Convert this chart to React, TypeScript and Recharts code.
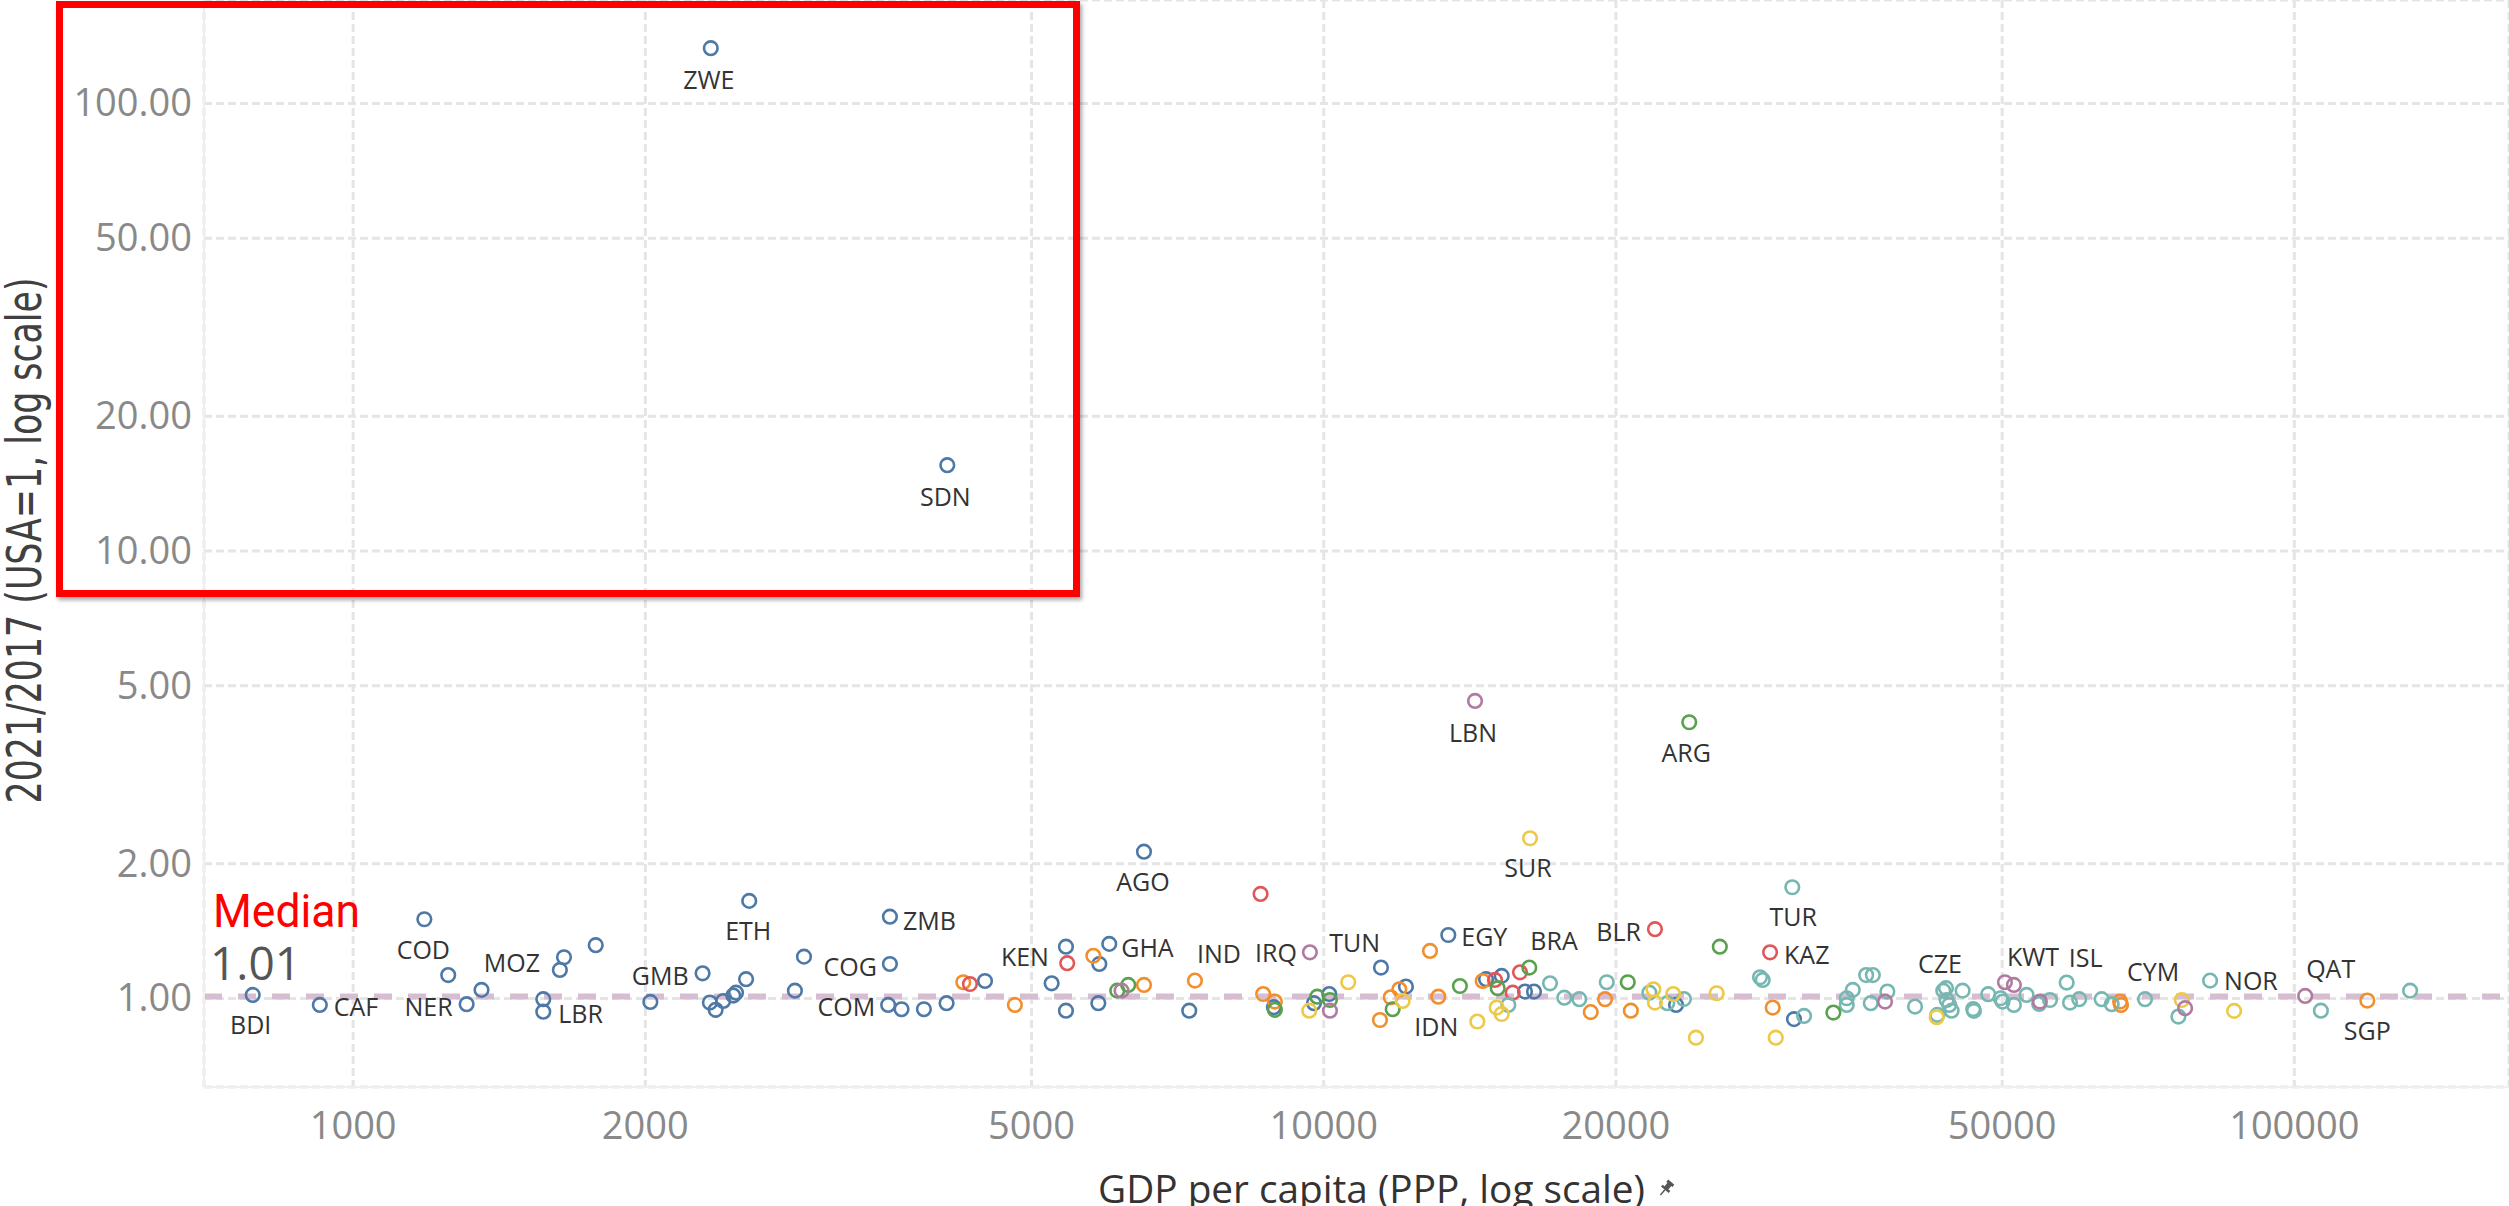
import { CartesianGrid, ReferenceLine, Scatter, ScatterChart, XAxis, YAxis } from "recharts";

type Pt = { gdp: number; ratio: number; code?: string };

// GDP per capita (PPP) vs 2021/2017 price-level ratio, grouped by region colour
const africa: Pt[] = [
  { gdp: 788, ratio: 1.018, code: "BDI" },
  { gdp: 924, ratio: 0.967, code: "CAF" },
  { gdp: 1184, ratio: 1.503, code: "COD" },
  { gdp: 1253, ratio: 1.128 },
  { gdp: 1309, ratio: 0.971, code: "NER" },
  { gdp: 1356, ratio: 1.045 },
  { gdp: 1570, ratio: 0.996 },
  { gdp: 1570, ratio: 0.934, code: "LBR" },
  { gdp: 1649, ratio: 1.236, code: "MOZ" },
  { gdp: 1633, ratio: 1.158 },
  { gdp: 1778, ratio: 1.315 },
  { gdp: 2024, ratio: 0.982 },
  { gdp: 2291, ratio: 1.138, code: "GMB" },
  { gdp: 2331, ratio: 0.979 },
  { gdp: 2363, ratio: 0.943 },
  { gdp: 2406, ratio: 0.987 },
  { gdp: 2464, ratio: 1.015 },
  { gdp: 2480, ratio: 1.03 },
  { gdp: 2540, ratio: 1.104 },
  { gdp: 2559, ratio: 1.652, code: "ETH" },
  { gdp: 2852, ratio: 1.041 },
  { gdp: 2914, ratio: 1.24 },
  { gdp: 3573, ratio: 1.523, code: "ZMB" },
  { gdp: 3573, ratio: 1.194, code: "COG" },
  { gdp: 3558, ratio: 0.967, code: "COM" },
  { gdp: 3673, ratio: 0.946 },
  { gdp: 3873, ratio: 0.946 },
  { gdp: 4087, ratio: 0.976 },
  { gdp: 4094, ratio: 15.55, code: "SDN" },
  { gdp: 2336, ratio: 132.9, code: "ZWE" },
  { gdp: 4477, ratio: 1.094 },
  { gdp: 5244, ratio: 1.081 },
  { gdp: 5425, ratio: 1.305, code: "KEN" },
  { gdp: 5425, ratio: 0.939 },
  { gdp: 5872, ratio: 1.194 },
  { gdp: 6012, ratio: 1.324, code: "GHA" },
  { gdp: 5858, ratio: 0.976 },
  { gdp: 6528, ratio: 2.128, code: "AGO" },
  { gdp: 7268, ratio: 0.939 },
  { gdp: 8884, ratio: 0.956 },
  { gdp: 9771, ratio: 0.976 },
  { gdp: 10131, ratio: 1.023 },
  { gdp: 11454, ratio: 1.172, code: "TUN" },
  { gdp: 12153, ratio: 1.063 },
  { gdp: 13438, ratio: 1.386, code: "EGY" },
  { gdp: 14696, ratio: 1.104 },
  { gdp: 15253, ratio: 1.123 },
  { gdp: 16119, ratio: 1.036 },
  { gdp: 16467, ratio: 1.036 },
  { gdp: 23066, ratio: 0.967 },
  { gdp: 30514, ratio: 0.899 },
];

const asia: Pt[] = [
  { gdp: 4252, ratio: 1.087 },
  { gdp: 4806, ratio: 0.967 },
  { gdp: 5789, ratio: 1.245 },
  { gdp: 6528, ratio: 1.072 },
  { gdp: 7367, ratio: 1.096, code: "IND" },
  { gdp: 8661, ratio: 1.023 },
  { gdp: 8905, ratio: 0.984 },
  { gdp: 11427, ratio: 0.895 },
  { gdp: 11721, ratio: 1.006 },
  { gdp: 11963, ratio: 1.048 },
  { gdp: 12867, ratio: 1.277 },
  { gdp: 13123, ratio: 1.009 },
  { gdp: 14581, ratio: 1.094 },
  { gdp: 18840, ratio: 0.932 },
  { gdp: 19490, ratio: 0.996 },
  { gdp: 20720, ratio: 0.939 },
  { gdp: 29010, ratio: 0.954 },
  { gdp: 66140, ratio: 0.984 },
  { gdp: 66280, ratio: 0.967 },
  { gdp: 118900, ratio: 0.989, code: "SGP" },
];

const cis: Pt[] = [
  { gdp: 4320, ratio: 1.077 },
  { gdp: 5441, ratio: 1.199 },
  { gdp: 8608, ratio: 1.712 },
  { gdp: 15012, ratio: 1.1 },
  { gdp: 15656, ratio: 1.03 },
  { gdp: 15929, ratio: 1.144 },
  { gdp: 21940, ratio: 1.428, code: "BLR" },
  { gdp: 28830, ratio: 1.268, code: "KAZ" },
];

const europe: Pt[] = [
  { gdp: 15494, ratio: 0.967 },
  { gdp: 17105, ratio: 1.081 },
  { gdp: 17696, ratio: 1.004 },
  { gdp: 18336, ratio: 0.996 },
  { gdp: 19570, ratio: 1.087 },
  { gdp: 21650, ratio: 1.03 },
  { gdp: 22590, ratio: 0.976 },
  { gdp: 23500, ratio: 0.997 },
  { gdp: 28150, ratio: 1.115 },
  { gdp: 28330, ratio: 1.1 },
  { gdp: 30390, ratio: 1.772, code: "TUR" },
  { gdp: 31250, ratio: 0.914 },
  { gdp: 34580, ratio: 0.967 },
  { gdp: 34580, ratio: 1.001 },
  { gdp: 35080, ratio: 1.045 },
  { gdp: 36210, ratio: 1.128 },
  { gdp: 36790, ratio: 1.128 },
  { gdp: 36610, ratio: 0.976 },
  { gdp: 38080, ratio: 1.036 },
  { gdp: 40660, ratio: 0.959 },
  { gdp: 42870, ratio: 0.919 },
  { gdp: 43480, ratio: 1.041 },
  { gdp: 43760, ratio: 1.054, code: "CZE" },
  { gdp: 43830, ratio: 0.992 },
  { gdp: 44100, ratio: 0.967 },
  { gdp: 44350, ratio: 0.939 },
  { gdp: 45520, ratio: 1.041 },
  { gdp: 46680, ratio: 0.947 },
  { gdp: 46760, ratio: 0.938 },
  { gdp: 48370, ratio: 1.022 },
  { gdp: 49810, ratio: 1.001 },
  { gdp: 50050, ratio: 0.984 },
  { gdp: 51410, ratio: 0.967 },
  { gdp: 52980, ratio: 1.018 },
  { gdp: 54590, ratio: 0.972 },
  { gdp: 56000, ratio: 0.992 },
  { gdp: 58270, ratio: 1.085, code: "ISL" },
  { gdp: 58730, ratio: 0.979 },
  { gdp: 60030, ratio: 0.996 },
  { gdp: 63310, ratio: 0.996 },
  { gdp: 64840, ratio: 0.971 },
  { gdp: 70170, ratio: 0.996, code: "CYM" },
  { gdp: 75950, ratio: 0.911 },
  { gdp: 81880, ratio: 1.096, code: "NOR" },
  { gdp: 106500, ratio: 0.939 },
  { gdp: 131600, ratio: 1.041 },
];

const southAmerica: Pt[] = [
  { gdp: 6127, ratio: 1.041 },
  { gdp: 6289, ratio: 1.072 },
  { gdp: 8905, ratio: 0.943 },
  { gdp: 9847, ratio: 1.009 },
  { gdp: 10148, ratio: 0.992 },
  { gdp: 11777, ratio: 0.946 },
  { gdp: 13813, ratio: 1.066 },
  { gdp: 15108, ratio: 1.054 },
  { gdp: 16285, ratio: 1.172, code: "BRA" },
  { gdp: 20570, ratio: 1.087 },
  { gdp: 23800, ratio: 4.142, code: "ARG" },
  { gdp: 25590, ratio: 1.305 },
  { gdp: 33500, ratio: 0.93 },
];

const caribbean: Pt[] = [
  { gdp: 9662, ratio: 0.939 },
  { gdp: 10598, ratio: 1.087 },
  { gdp: 12059, ratio: 0.987 },
  { gdp: 14395, ratio: 0.888, code: "IDN" },
  { gdp: 15072, ratio: 0.954 },
  { gdp: 15253, ratio: 0.923 },
  { gdp: 16312, ratio: 2.28, code: "SUR" },
  { gdp: 21860, ratio: 1.048 },
  { gdp: 21940, ratio: 0.979 },
  { gdp: 22910, ratio: 1.023 },
  { gdp: 24180, ratio: 0.817 },
  { gdp: 25400, ratio: 1.027 },
  { gdp: 29220, ratio: 0.817 },
  { gdp: 42810, ratio: 0.908 },
  { gdp: 76570, ratio: 0.992 },
  { gdp: 86680, ratio: 0.938 },
];

const middleEast: Pt[] = [
  { gdp: 6190, ratio: 1.041 },
  { gdp: 9677, ratio: 1.268, code: "IRQ" },
  { gdp: 10148, ratio: 0.939 },
  { gdp: 14317, ratio: 4.622, code: "LBN" },
  { gdp: 37870, ratio: 0.984 },
  { gdp: 50330, ratio: 1.087, code: "KWT" },
  { gdp: 51410, ratio: 1.072 },
  { gdp: 54680, ratio: 0.984 },
  { gdp: 77170, ratio: 0.951 },
  { gdp: 102600, ratio: 1.013, code: "QAT" },
];

const xTicks = [1000, 2000, 5000, 10000, 20000, 50000, 100000];
const yTicks = [1, 2, 5, 10, 20, 50, 100];
const median = 1.01;

const regions = [
  { name: "Africa", color: "#4e79a7", data: africa },
  { name: "Asia", color: "#f28e2b", data: asia },
  { name: "CIS", color: "#e15759", data: cis },
  { name: "Europe", color: "#76b7b2", data: europe },
  { name: "South America", color: "#59a14f", data: southAmerica },
  { name: "Caribbean", color: "#edc948", data: caribbean },
  { name: "Middle East", color: "#b07aa1", data: middleEast },
];

// label placement relative to its point: dx, dy (baseline), anchor
const labelPos: Record<string, [number, number, "start" | "middle" | "end"]> = {
  ZWE: [-2, 41, "middle"],
  SDN: [-2, 41, "middle"],
  BDI: [-2, 39, "middle"],
  CAF: [14, 11, "start"],
  COD: [-1, 40, "middle"],
  NER: [-14, 12, "end"],
  MOZ: [-24, 15, "end"],
  LBR: [15, 11, "start"],
  GMB: [-14, 12, "end"],
  ETH: [-1, 39, "middle"],
  ZMB: [13, 13, "start"],
  COG: [-13, 12, "end"],
  COM: [-13, 11, "end"],
  KEN: [-17, 19, "end"],
  GHA: [12, 13, "start"],
  AGO: [-1, 39, "middle"],
  IND: [2, -18, "start"],
  IRQ: [-13, 10, "end"],
  TUN: [-1, -16, "end"],
  EGY: [13, 11, "start"],
  IDN: [-19, 14, "end"],
  BRA: [1, -18, "start"],
  SUR: [-2, 39, "middle"],
  LBN: [-2, 41, "middle"],
  ARG: [-3, 40, "middle"],
  BLR: [-14, 12, "end"],
  TUR: [1, 39, "middle"],
  KAZ: [14, 12, "start"],
  CZE: [-6, -15, "middle"],
  KWT: [2, -16, "start"],
  ISL: [2, -16, "start"],
  CYM: [8, -18, "middle"],
  NOR: [14, 9, "start"],
  QAT: [1, -18, "start"],
  SGP: [0, 39, "middle"],
};

const labeled = regions.flatMap((r) => r.data.filter((p) => p.code));

const SANS = "'Open Sans', 'Noto Sans', sans-serif";

const ring = (color: string) => (props: any) => (
  <circle cx={props.cx} cy={props.cy} r={6.8} fill="none" stroke={color} strokeWidth={2.6} />
);

const codeLabel = (props: any) => {
  const p = props.payload as Pt;
  const [dx, dy, anchor] = labelPos[p.code as string] ?? [0, 40, "middle"];
  return (
    <text x={props.cx + dx} y={props.cy + dy} textAnchor={anchor} fontFamily={SANS} fontSize={25} fill="#333">
      {p.code}
    </text>
  );
};

const xTick = (props: any) => (
  <text x={props.x} y={props.y + 52} textAnchor="middle" fontFamily={SANS} fontSize={38} fill="#898989">
    {props.payload.value}
  </text>
);

const yTick = (props: any) => (
  <text x={props.x - 12} y={props.y + 13} textAnchor="end" fontFamily={SANS} fontSize={38} fill="#898989">
    {Number(props.payload.value).toFixed(2)}
  </text>
);

const yTitle = (props: any) => {
  const vb = props.viewBox;
  const cx = 41;
  const cy = vb.y + vb.height / 2 - 3;
  return (
    <text
      x={cx}
      y={cy}
      transform={`rotate(-90 ${cx} ${cy})`}
      textAnchor="middle"
      fontFamily="'DejaVu Sans', Verdana, sans-serif"
      fontSize={48}
      fill="#404040"
      textLength={526}
      lengthAdjust="spacingAndGlyphs"
    >
      2021/2017 (USA=1, log scale)
    </text>
  );
};

const xTitle = (props: any) => {
  const vb = props.viewBox;
  const cx = vb.x + vb.width / 2 + 15;
  const base = vb.y + 116;
  return (
    <g>
      <text
        x={cx}
        y={base}
        textAnchor="middle"
        fontFamily={SANS}
        fontSize={38}
        fill="#333"
        textLength={547}
        lengthAdjust="spacingAndGlyphs"
      >
        GDP per capita (PPP, log scale)
      </text>
      <g transform={`translate(${cx + 294} ${base - 14}) rotate(40)`} fill="#555">
        <rect x={-4} y={-9} width={8} height={3} />
        <rect x={-2.5} y={-7} width={5} height={6} />
        <rect x={-5} y={-1.5} width={10} height={2.5} />
        <rect x={-0.75} y={1} width={1.5} height={7} />
      </g>
    </g>
  );
};

const medianLabel = (props: any) => {
  const vb = props.viewBox;
  return (
    <g>
      <text
        x={vb.x + 9}
        y={vb.y - 70}
        fontFamily="Roboto, 'Open Sans', sans-serif"
        fontSize={46}
        fill="#ff0000"
        textLength={147}
        lengthAdjust="spacingAndGlyphs"
      >
        Median
      </text>
      <text x={vb.x + 6} y={vb.y - 17} fontFamily={SANS} fontSize={46} fill="#555">
        {median.toFixed(2)}
      </text>
    </g>
  );
};

export default function App() {
  return (
    <div style={{ position: "absolute", left: 0, top: 0, width: 2509, height: 1206, background: "#fff" }}>
      <ScatterChart width={2509} height={1206} margin={{ top: 0, right: 0, bottom: 0, left: 0 }}>
        <CartesianGrid stroke="#e5e5e5" strokeWidth={3} strokeDasharray="8 4" />
        <XAxis
          type="number"
          dataKey="gdp"
          scale="log"
          domain={[702, 166400]}
          allowDataOverflow
          ticks={xTicks}
          tick={xTick}
          tickSize={0}
          tickMargin={0}
          tickLine={false}
          axisLine={{ stroke: "#efefef", strokeWidth: 2 }}
          height={119}
          label={xTitle}
        />
        <YAxis
          type="number"
          dataKey="ratio"
          scale="log"
          domain={[0.634, 170.3]}
          allowDataOverflow
          ticks={yTicks}
          tick={yTick}
          tickSize={0}
          tickMargin={0}
          tickLine={false}
          axisLine={{ stroke: "#efefef", strokeWidth: 2 }}
          width={204}
          label={yTitle}
        />
        <ReferenceLine
          y={median}
          stroke="#d6bdd2"
          strokeWidth={6}
          strokeDasharray="18 16"
          label={medianLabel}
        />
        {regions.map((r) => (
          <Scatter
            key={r.name}
            name={r.name}
            data={r.data}
            shape={ring(r.color)}
            isAnimationActive={false}
          />
        ))}
        <Scatter name="labels" data={labeled} shape={codeLabel} isAnimationActive={false} />
      </ScatterChart>
      <div
        style={{
          position: "absolute",
          left: 56,
          top: 1,
          width: 1024,
          height: 596,
          boxSizing: "border-box",
          border: "7px solid #ff0000",
          boxShadow: "2px 3px 4px rgba(0,0,0,0.35)",
          pointerEvents: "none",
        }}
      />
    </div>
  );
}
